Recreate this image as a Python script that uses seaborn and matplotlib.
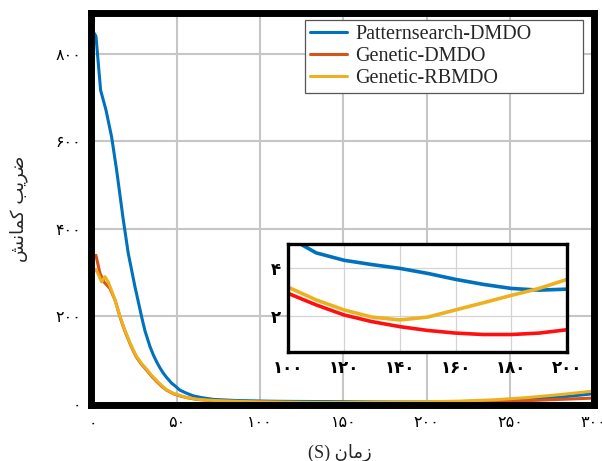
import matplotlib
matplotlib.use("Agg")
import matplotlib.pyplot as plt
import pandas as pd
import seaborn as sns

# Buckling coefficient versus time for the three optimisation strategies
ps_time = [0, 1.6, 4.4, 7.6, 11, 14, 18, 21, 25, 29, 31, 34, 36, 38, 40, 42, 44, 47, 49, 52, 56,
           60, 65, 72, 85, 100, 110, 120, 130, 140, 150, 160, 170, 180, 190, 200,
           220, 240, 260, 280, 300]
ps_value = [851, 841, 717, 672, 610, 534, 420, 343, 267, 198, 166, 130, 111, 95, 81, 69, 59, 46, 40,
            30, 23, 17, 13, 9, 6.5, 5.3, 4.64, 4.33, 4.15, 3.99, 3.78, 3.53, 3.32, 3.15, 3.08, 3.12,
            4, 6, 9, 14, 22]

gd_time = [0, 1.6, 4, 6.4, 10, 13, 14.5, 16, 17.5, 19, 22, 24, 26, 29, 32, 35, 38, 41, 44, 48,
           52, 56, 62, 68, 75, 88, 100, 110, 120, 130, 140, 150, 160, 170, 180, 190, 200,
           220, 240, 260, 280, 300]
gd_value = [337, 339, 298, 278, 263, 237, 218, 198, 181, 165, 137, 120, 105, 89, 76, 62, 50, 39, 30,
            22, 17, 13, 9, 7, 5.5, 3.8, 2.94, 2.46, 2.04, 1.76, 1.55, 1.39, 1.28, 1.22, 1.22, 1.28,
            1.42, 2, 3.5, 6, 9, 12]

gr_time = [0, 1.6, 5, 7, 9, 12, 14, 16, 17.5, 19, 22, 24, 26, 29, 32, 35, 38, 41, 44, 48,
           52, 56, 62, 68, 75, 88, 100, 110, 120, 130, 140, 150, 160, 170, 180, 190, 200,
           220, 240, 260, 280, 300]
gr_value = [301, 307, 278, 290, 278, 248, 224, 200, 183, 167, 139, 122, 107, 91, 78, 64, 52, 41, 31,
            23, 18, 13.5, 9.5, 7.5, 6, 4.3, 3.2, 2.67, 2.25, 1.95, 1.83, 1.95, 2.25, 2.55, 2.86, 3.15,
            3.53, 5, 8, 13, 20, 28]

method_names = ["Patternsearch-DMDO", "Genetic-DMDO", "Genetic-RBMDO"]
main_colors = ["#0072BD", "#D95319", "#EDB120"]
inset_colors = ["#0072BD", "#FF1010", "#EDB120"]

x_ticks = [0, 50, 100, 150, 200, 250, 300]
y_ticks = [0, 200, 400, 600, 800]
inset_x_ticks = [100, 120, 140, 160, 180, 200]
inset_y_ticks = [2, 4]

# Persian titles written with Arabic presentation forms in display order
y_title = "ﺶﻧﺎﻤﮐ ﺐﯾﺮﺿ"
x_title = "(S) ﻥﺎﻣﺯ"

FA_DIGITS = str.maketrans("0123456789", "۰۱۲۳۴۵۶۷۸۹")


def fa(n):
    return str(n).translate(FA_DIGITS)


frames = []
for name, t, v in zip(method_names, [ps_time, gd_time, gr_time], [ps_value, gd_value, gr_value]):
    frames.append(pd.DataFrame({"time": t, "value": v, "method": name}))
df = pd.concat(frames, ignore_index=True)

sns.set_theme(style="white")
plt.rcParams["font.family"] = ["DejaVu Sans"]

fig = plt.figure(figsize=(6.02, 4.61), dpi=100)
ax = fig.add_axes([0.1508, 0.1204, 0.8351, 0.8514])

sns.lineplot(data=df, x="time", y="value", hue="method", hue_order=method_names,
             palette=main_colors, linewidth=2.2, estimator=None, ax=ax)

ax.set_xlim(-1.5, 300)
ax.set_ylim(-5, 894)
ax.set_xticks(x_ticks)
ax.set_xticklabels([fa(v) for v in x_ticks])
ax.set_yticks(y_ticks)
ax.set_yticklabels([fa(v) for v in y_ticks])
ax.tick_params(length=0, pad=7, labelsize=11.5, colors="black")
ax.grid(True, color="#c6c6c6", linewidth=1.5)
ax.set_axisbelow(True)
for sp in ax.spines.values():
    sp.set_visible(True)
    sp.set_color("black")
    sp.set_linewidth(5)

ax.set_xlabel(x_title, fontsize=13, family=["Liberation Serif", "DejaVu Sans"])
ax.set_ylabel(y_title, fontsize=13)
ax.xaxis.set_label_coords(0.496, -0.098)
ax.yaxis.set_label_coords(-0.125, 0.5)

handles, labels = ax.get_legend_handles_labels()
ax.legend(handles, labels, loc="upper left", bbox_to_anchor=(0.426, 0.5, 0.554, 0.482),
          mode="expand", borderaxespad=0, prop={"family": "Liberation Serif", "size": 14.5},
          frameon=True, fancybox=False, edgecolor="#555555", framealpha=1,
          handlelength=1.85, handletextpad=0.4, labelspacing=0.14, borderpad=0.25)
ax.get_legend().get_frame().set_linewidth(0.9)

# Zoomed view of the 100-200 s range
axin = fig.add_axes([0.4789, 0.2371, 0.4630, 0.2330])
axin.set_facecolor("white")
sns.lineplot(data=df, x="time", y="value", hue="method", hue_order=method_names,
             palette=inset_colors, linewidth=2.6, estimator=None, legend=False, ax=axin)
axin.set_xlim(100, 200)
axin.set_ylim(0.5, 5)
axin.set_xticks(inset_x_ticks)
axin.set_xticklabels([fa(v) for v in inset_x_ticks])
axin.set_yticks(inset_y_ticks)
axin.set_yticklabels([fa(v) for v in inset_y_ticks])
axin.tick_params(length=0, pad=5, labelsize=12, colors="black")
for lab in axin.get_xticklabels() + axin.get_yticklabels():
    lab.set_fontweight("bold")
axin.grid(True, color="#d4d4d4", linewidth=0.9)
axin.set_axisbelow(True)
axin.set_xlabel("")
axin.set_ylabel("")
for sp in axin.spines.values():
    sp.set_visible(True)
    sp.set_color("black")
    sp.set_linewidth(2.4)

fig.savefig("out.png", dpi=100)
